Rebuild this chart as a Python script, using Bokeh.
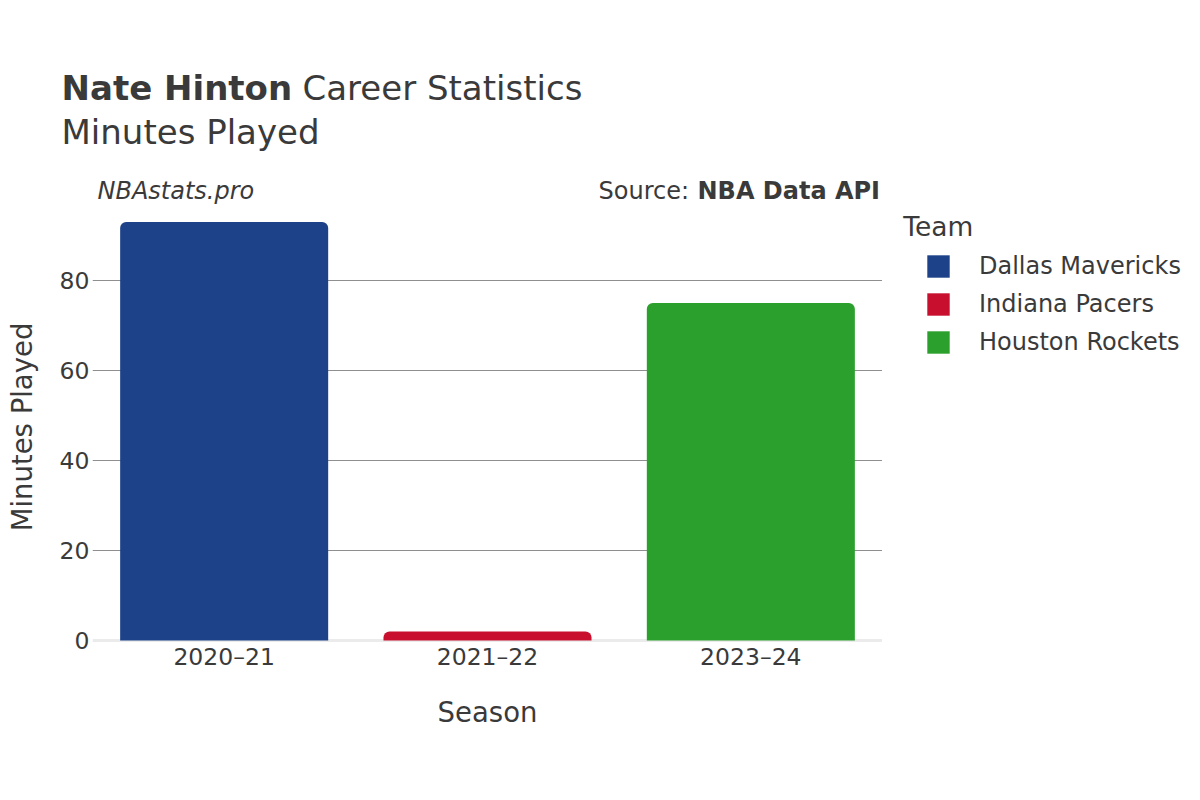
from bokeh.plotting import figure
from bokeh.layouts import column, row
from bokeh.models import (ColumnDataSource, FactorRange, Range1d, FixedTicker, Label,
                          Legend, LegendItem, Span)
from bokeh.embed import file_html
from bokeh.resources import INLINE

seasons = ["2020–21", "2021–22", "2023–24"]
teams = ["Dallas Mavericks", "Indiana Pacers", "Houston Rockets"]
minutes = [93, 2, 75]
colors = ["#1D428A", "#C8102E", "#2CA02C"]
y_ticks = [0, 20, 40, 60, 80]

FONT = "DejaVu Sans"
TXT = "#3a3a3a"

src = ColumnDataSource(dict(season=seasons, team=teams, minutes=minutes, color=colors))


def blank(w, h, **kw):
    f = figure(width=w, height=h, output_backend="svg", toolbar_location=None,
               x_axis_type=None, y_axis_type=None, min_border=0, **kw)
    f.outline_line_color = None
    f.grid.visible = False
    f.background_fill_color = "white"
    f.border_fill_color = "white"
    return f


def lab(f, text, x, y, size, style="normal"):
    f.add_layout(Label(text=text, x=x, y=y, x_units="screen", y_units="screen",
                       text_font=FONT, text_font_size=size, text_font_style=style,
                       text_color=TXT, text_baseline="middle", text_align="left"))


# ---- header ----
TOP_H = 206
top = blank(1184, TOP_H, x_range=Range1d(0, 1), y_range=Range1d(0, 1))
lab(top, "Nate Hinton", 61, TOP_H - 87.7, "34px", "bold")
lab(top, "Career Statistics", 302, TOP_H - 87.7, "34px")
lab(top, "Minutes Played", 61, TOP_H - 131.5, "34px")
lab(top, "NBAstats.pro", 97, TOP_H - 190, "24px", "italic")
lab(top, "Source:", 598, TOP_H - 190, "24px")
lab(top, "NBA Data API", 697, TOP_H - 190, "24px", "bold")

# ---- main chart ----
MAIN_H = 784 - TOP_H
FRAME_BOTTOM = 643
p = figure(width=882, height=MAIN_H, output_backend="svg", toolbar_location=None,
           x_range=FactorRange(*seasons), y_range=Range1d(-0.667, 95.56),
           min_border_left=92, min_border_right=0, min_border_top=4,
           min_border_bottom=MAIN_H - (FRAME_BOTTOM - TOP_H))
p.outline_line_color = None
p.background_fill_color = "white"
p.border_fill_color = "white"

r = p.vbar(x="season", top="minutes", width=0.79, source=src, fill_color="color",
           line_color=None, border_radius=(6, 6, 0, 0))

p.yaxis.ticker = FixedTicker(ticks=y_ticks)
p.ygrid.ticker = FixedTicker(ticks=y_ticks[1:])
p.ygrid.grid_line_color = "#8f8f8f"
p.ygrid.grid_line_width = 1
p.xgrid.grid_line_color = None
for ax in (p.xaxis, p.yaxis):
    ax.axis_line_color = None
    ax.major_tick_line_color = None
    ax.minor_tick_line_color = None
    ax.major_label_text_font = FONT
    ax.major_label_text_font_size = "23.5px"
    ax.major_label_text_color = TXT
    ax.axis_label_text_font = FONT
    ax.axis_label_text_font_size = "27.5px"
    ax.axis_label_text_font_style = "normal"
    ax.axis_label_text_color = TXT
p.yaxis.major_label_standoff = -3
p.yaxis.axis_label = "Minutes Played"
p.yaxis.axis_label_standoff = 19
p.xaxis.major_label_standoff = -7
p.xaxis.axis_label = "Season"
p.xaxis.axis_label_standoff = 22

p.add_layout(Span(location=0, dimension="width", line_color="#ebebeb", line_width=3,
                  level="underlay"))

# ---- legend panel (its frame is aligned with the main frame: y 210..643) ----
LEG_W = 1184 - 882
# the legend's own bars use a factor range that does not hold the seasons, so they are not drawn
leg = blank(LEG_W, MAIN_H, x_range=FactorRange("legend"), y_range=Range1d(0, 100))
lr = leg.vbar(x="season", top="minutes", bottom="minutes", width=0.79, source=src,
              fill_color="color", line_color=None)
lab(leg, "Team", 902.7 - 882, FRAME_BOTTOM - 225.8, "26.5px")
legend = Legend(items=[LegendItem(label=t, renderers=[lr], index=i) for i, t in enumerate(teams)],
                location=(42, FRAME_BOTTOM - 355.5), orientation="vertical",
                glyph_width=28, glyph_height=28, label_standoff=27, spacing=10,
                padding=0, margin=0, border_line_color=None, background_fill_alpha=0,
                label_text_font=FONT, label_text_font_size="24px", label_text_color=TXT)
leg.add_layout(legend, "center")

layout = column(top, row(p, leg))
open("out.html", "w").write(file_html(layout, INLINE))
